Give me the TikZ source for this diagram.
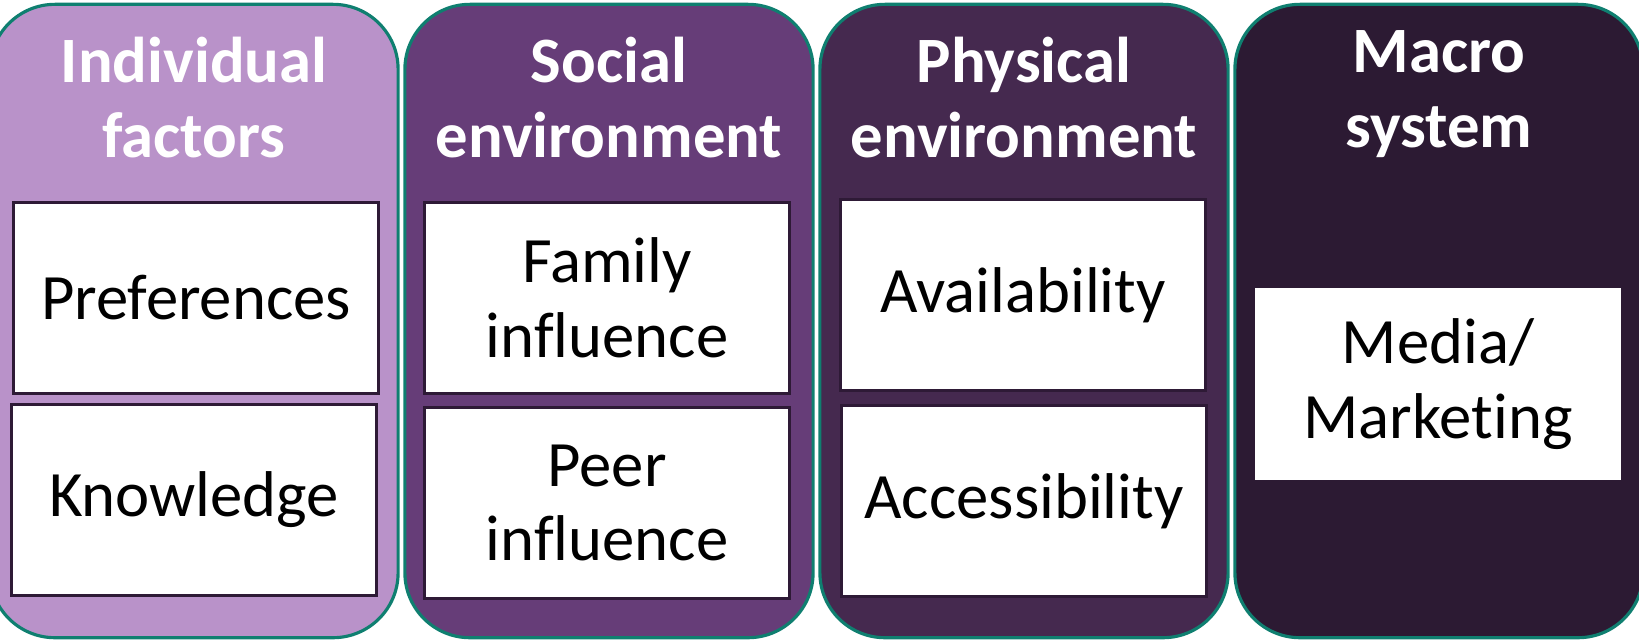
\documentclass[tikz,border=0pt]{standalone}
\usepackage{fontspec}
\setmainfont{Carlito}[Ligatures=NoCommon]
\definecolor{indivfill}{HTML}{B992C9}
\definecolor{socialfill}{HTML}{663D78}
\definecolor{physfill}{HTML}{45294F}
\definecolor{macrofill}{HTML}{2C1A33}
\definecolor{rim}{HTML}{0F7F70}
\definecolor{edge}{HTML}{2E1A36}

\begin{document}
\begin{tikzpicture}[x=0.01cm, y=-0.01cm,
  panel/.style={draw=rim, line width=0.9pt, rounded corners=0.65cm,
    minimum width=4.08cm, minimum height=6.33cm},
  head/.style={text=white, align=center,
    font=\fontsize{18.4}{21.3}\selectfont\bfseries},
  item/.style={fill=white, draw=edge, line width=0.9pt, align=center,
    minimum width=3.65cm, minimum height=1.91cm,
    font=\fontsize{18.4}{21.3}\selectfont}]
\clip (0,0) rectangle (1639,641);
% --- four columns, left to right ---
\node[panel, fill=indivfill]  (indiv)  at (194,321)  {};
\node[panel, fill=socialfill] (social) at (609,321)  {};
\node[panel, fill=physfill]   (phys)   at (1024,321) {};
\node[panel, fill=macrofill]  (macro)  at (1439,321) {};
% --- column headings (base = last line) ---
\node[head, anchor=base] (indivhead)  at (194,157)  {Individual\\factors};
\node[head, anchor=base] (socialhead) at (609,157)  {Social\\environment};
\node[head, anchor=base] (physhead)   at (1024,157) {Physical\\environment};
\node[head, anchor=base] (macrohead)  at (1439,147) {Macro\\system};
% --- white boxes ---
\node[item] (pref)   at (196,298)  {Preferences};
\node[item] (know)   at (194,500)  {Knowledge};
\node[item] (family) at (607,298)  {Family\\influence};
\node[item] (peer)   at (607,503)  {Peer\\influence};
\node[item] (avail)  at (1023,295) {Availability};
\node[item] (access) at (1024,501) {Accessibility};
\node[item, draw=none] (media) at (1438,384) {Media/\\Marketing};
\end{tikzpicture}
\end{document}
